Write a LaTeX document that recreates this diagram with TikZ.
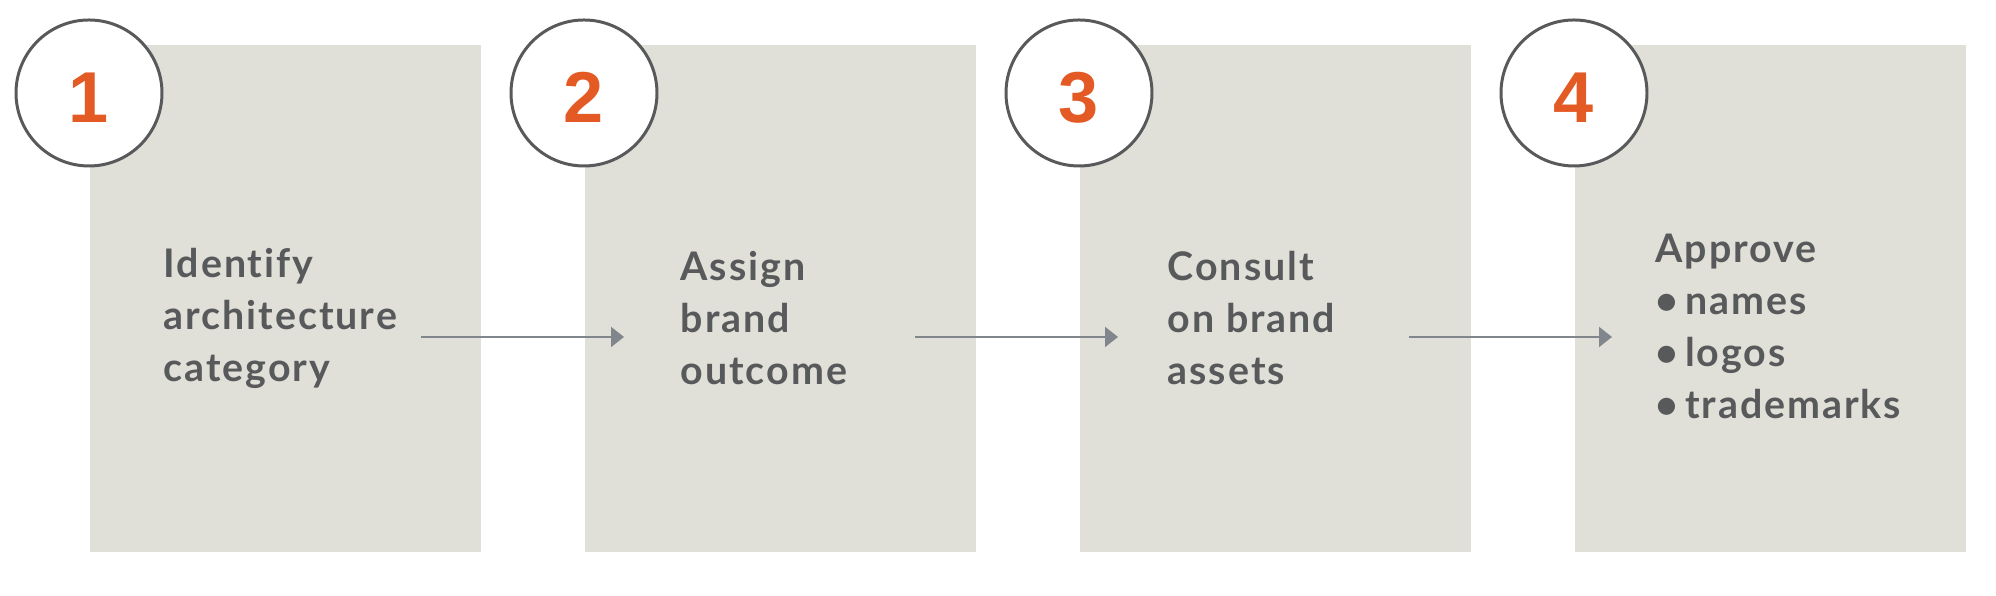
\documentclass[tikz,border=0pt]{standalone}
\usepackage{fontspec}
\setmainfont{Lato}[LetterSpace=5, Ligatures=NoCommon]
\newfontfamily\numfont{Liberation Sans}
\usetikzlibrary{positioning}
\usetikzlibrary{arrows.meta}
\definecolor{boxgray}{HTML}{E0DFD8}
\definecolor{txtgray}{HTML}{58595B}
\definecolor{numorange}{HTML}{E35A24}
\definecolor{arrowgray}{HTML}{80868C}
\tikzset{
    stepbox/.style = {rectangle, fill=boxgray, anchor=north west, inner sep=0pt, minimum width=3.91cm, minimum height=5.07cm},
    stepnum/.style = {circle, draw=txtgray, line width=0.85pt, fill=white, inner sep=0pt, minimum size=1.46cm, text height=0.6cm, text depth=0pt, text=numorange, font=\numfont\bfseries\fontsize{20.5}{20.5}\selectfont},
    steptext/.style = {anchor=west, align=left, inner sep=0pt, text=txtgray, font=\bfseries\fontsize{11.2}{14.8}\selectfont},
    edgea/.style = {-{Triangle[length=0.13cm,width=0.2cm]}, line width=0.6pt, draw=arrowgray},
}

\begin{document}
\begin{tikzpicture}
\useasboundingbox (0,0) rectangle (19.96,-5.96);
\node[stepbox] at (0.89, -0.446) (b1) {};
\node[stepbox] at (5.84, -0.446) (b2) {};
\node[stepbox] at (10.79, -0.446) (b3) {};
\node[stepbox] at (15.74, -0.446) (b4) {};
%
\node[stepnum] at (0.89, -0.93) (n1) {1};
\node[stepnum] at (5.84, -0.93) (n2) {2};
\node[stepnum] at (10.79, -0.93) (n3) {3};
\node[stepnum] at (15.74, -0.93) (n4) {4};
%
\node[steptext] at (1.63, -3.18) (t1) {Identify\\architecture\\category};
\node[steptext] at (6.80, -3.18) (t2) {Assign\\brand\\outcome};
\node[steptext] at (11.67, -3.18) (t3) {Consult\\on brand\\assets};
\node[steptext] at (16.55, -3.26) (t4) {Approve\\\textbullet\,names\\\textbullet\,logos\\\textbullet\,trademarks};
%
\coordinate (a1) at (4.21, -3.37);
\coordinate (a2) at (6.24, -3.37);
\coordinate (a3) at (9.15, -3.37);
\coordinate (a4) at (11.18, -3.37);
\coordinate (a5) at (14.09, -3.37);
\coordinate (a6) at (16.12, -3.37);
\draw[edgea] (a1) -- (a2);
\draw[edgea] (a3) -- (a4);
\draw[edgea] (a5) -- (a6);
\end{tikzpicture}
\end{document}
